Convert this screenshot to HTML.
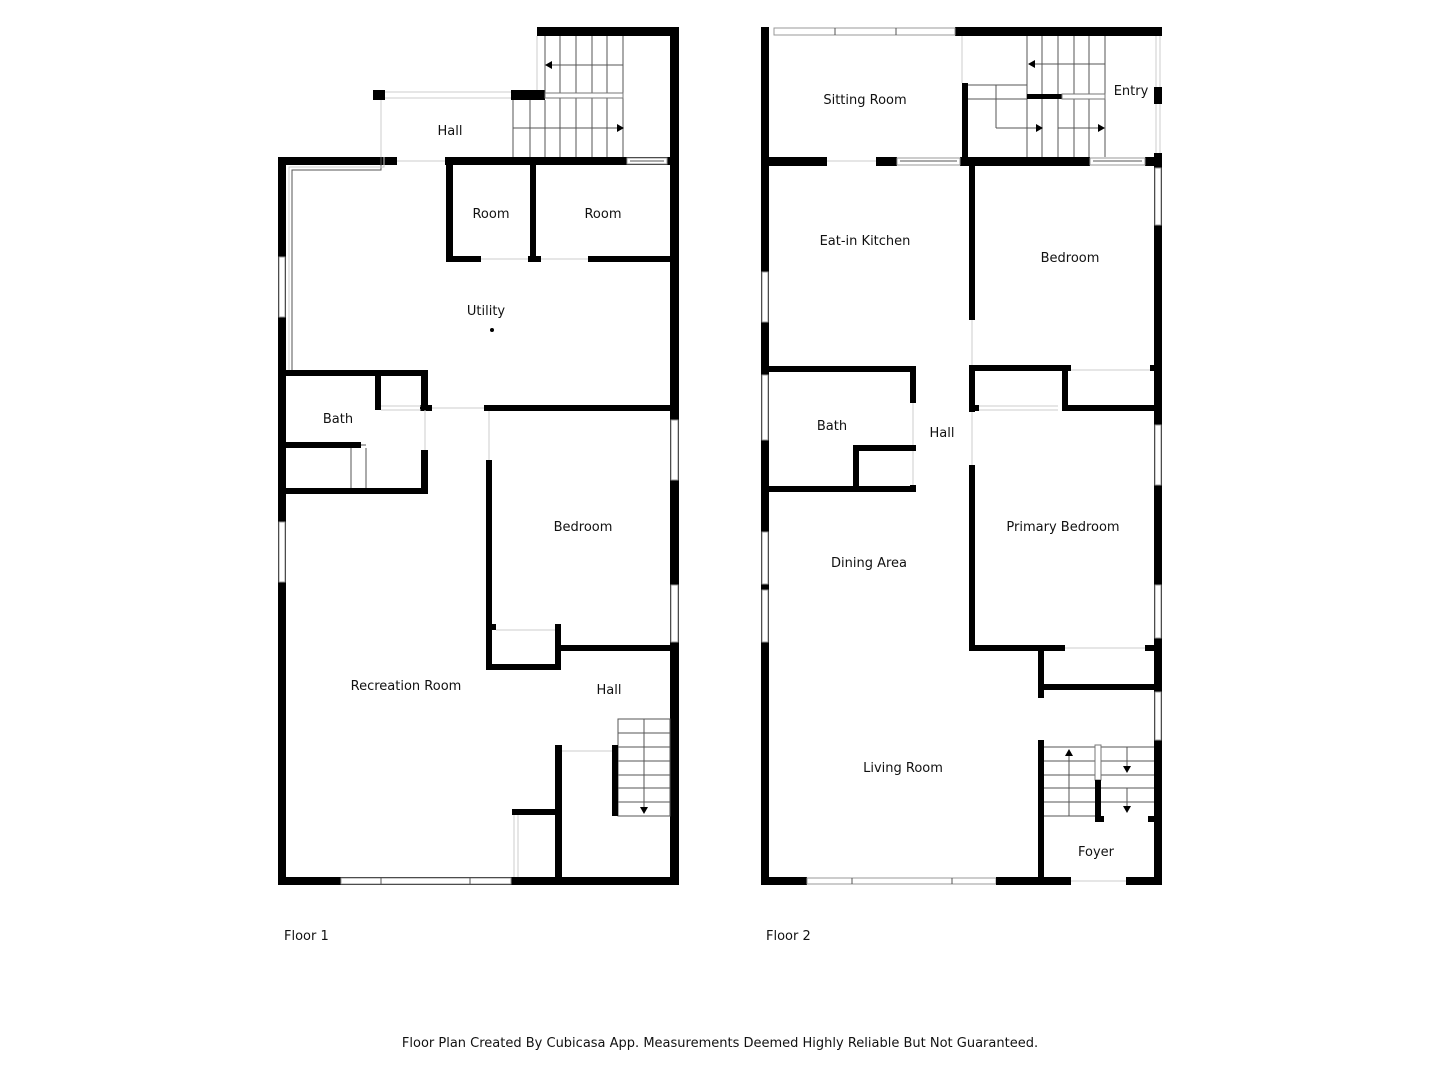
<!DOCTYPE html>
<html><head><meta charset="utf-8"><style>
html,body{margin:0;padding:0;background:#fff;width:1440px;height:1080px;overflow:hidden}
svg text{font-family:"DejaVu Sans","Liberation Sans",sans-serif;font-size:13px;fill:#111}
.w{fill:#000}
.win{fill:#fff;stroke:#999;stroke-width:1}
.t{stroke:#555;stroke-width:1;fill:none}
.d{stroke:#ccc;stroke-width:1;fill:none}
</style></head><body>
<svg width="1440" height="1080" viewBox="0 0 1440 1080" xmlns="http://www.w3.org/2000/svg">
<!-- ===== FLOOR 1 ===== -->
<!-- outer walls -->
<rect class="w" x="278" y="157" width="8" height="728"/>
<rect class="w" x="670" y="27" width="9" height="858"/>
<rect class="w" x="278" y="877" width="401" height="8"/>
<rect class="w" x="278" y="157" width="119" height="8"/>
<rect class="w" x="445" y="157" width="225" height="8"/>
<rect class="win" x="627" y="158" width="40" height="6"/>
<line class="t" x1="630" y1="161" x2="664" y2="161"/>
<rect class="win" x="279" y="257" width="6" height="60"/>
<rect class="win" x="279" y="522" width="6" height="60"/>
<rect class="win" x="671" y="420" width="7" height="60"/>
<rect class="win" x="671" y="585" width="7" height="57"/>
<rect class="win" x="341" y="878" width="170" height="6"/>
<line class="t" x1="381" y1="878" x2="381" y2="884"/><line class="t" x1="470" y1="878" x2="470" y2="884"/>
<line class="d" x1="397" y1="161" x2="445" y2="161"/>
<!-- upper stair enclosure -->
<rect class="w" x="537" y="27" width="142" height="9"/>
<line class="d" x1="537" y1="36" x2="537" y2="90"/>
<rect class="w" x="373" y="90" width="12" height="10"/>
<rect class="w" x="511" y="90" width="34" height="10"/>
<line class="d" x1="385" y1="92" x2="511" y2="92"/><line class="d" x1="385" y1="98" x2="511" y2="98"/>
<line class="d" x1="381" y1="100" x2="381" y2="157"/>
<line class="t" x1="545" y1="36" x2="545" y2="94"/>
<line class="t" x1="560" y1="36" x2="560" y2="157"/><line class="t" x1="576" y1="36" x2="576" y2="157"/>
<line class="t" x1="592" y1="36" x2="592" y2="157"/><line class="t" x1="607" y1="36" x2="607" y2="157"/>
<line class="t" x1="623" y1="36" x2="623" y2="157"/>
<line class="t" x1="530" y1="100" x2="530" y2="157"/><line class="t" x1="545" y1="100" x2="545" y2="157"/>
<line class="t" x1="513" y1="100" x2="513" y2="157"/>
<rect x="545" y="93" width="78" height="5" fill="#fff" stroke="#777" stroke-width="1"/>
<line class="t" x1="547" y1="65" x2="623" y2="65"/><polygon points="545,65 552,61 552,69" fill="#000"/>
<line class="t" x1="513" y1="128" x2="617" y2="128"/><polygon points="624,128 617,124 617,132" fill="#000"/>
<!-- utility thin line -->
<polyline class="t" points="381,157 381,170 292,170 292,370"/>
<polyline class="d" points="384,157 384,167 289,167 289,370"/>
<!-- rooms -->
<rect class="w" x="446" y="165" width="7" height="97"/>
<rect class="w" x="530" y="165" width="6" height="97"/>
<rect class="w" x="446" y="256" width="35" height="6"/>
<rect class="w" x="528" y="256" width="13" height="6"/>
<rect class="w" x="588" y="256" width="82" height="6"/>
<line class="d" x1="481" y1="259" x2="528" y2="259"/><line class="d" x1="541" y1="259" x2="588" y2="259"/>
<!-- bath -->
<rect class="w" x="278" y="370" width="150" height="6"/>
<rect class="w" x="375" y="370" width="6" height="40"/>
<rect class="w" x="421" y="370" width="7" height="40"/>
<rect class="w" x="420" y="405" width="12" height="6"/>
<line class="d" x1="381" y1="406" x2="421" y2="406"/><line class="d" x1="381" y1="410" x2="421" y2="410"/>
<line class="d" x1="432" y1="408" x2="484" y2="408"/>
<rect class="w" x="484" y="405" width="186" height="6"/>
<line class="d" x1="425" y1="410" x2="425" y2="450"/>
<rect class="w" x="421" y="450" width="7" height="44"/>
<rect class="w" x="286" y="442" width="75" height="6"/>
<line class="t" x1="351" y1="448" x2="351" y2="490"/><line class="t" x1="366" y1="448" x2="366" y2="490"/><line class="t" x1="361" y1="445" x2="366" y2="445"/>
<rect class="w" x="278" y="488" width="150" height="6"/>
<!-- bedroom -->
<line class="d" x1="489" y1="411" x2="489" y2="460"/>
<rect class="w" x="486" y="460" width="6" height="209"/>
<rect class="w" x="486" y="664" width="75" height="6"/>
<rect class="w" x="555" y="624" width="6" height="46"/>
<rect class="w" x="492" y="624" width="4" height="6"/>
<line class="d" x1="496" y1="630" x2="555" y2="630"/>
<rect class="w" x="555" y="645" width="115" height="6"/>
<!-- hall stairs -->
<rect x="618" y="719" width="52" height="97" fill="none" stroke="#555" stroke-width="1"/>
<line class="t" x1="618" y1="733" x2="670" y2="733"/><line class="t" x1="618" y1="747" x2="670" y2="747"/>
<line class="t" x1="618" y1="761" x2="670" y2="761"/><line class="t" x1="618" y1="775" x2="670" y2="775"/>
<line class="t" x1="618" y1="788" x2="670" y2="788"/><line class="t" x1="618" y1="802" x2="670" y2="802"/>
<line class="t" x1="644" y1="719" x2="644" y2="807"/><polygon points="644,814 640,807 648,807" fill="#000"/>
<rect class="w" x="612" y="745" width="6" height="71"/>
<rect class="w" x="555" y="745" width="7" height="140"/>
<line class="d" x1="562" y1="751" x2="612" y2="751"/>
<rect class="w" x="512" y="809" width="49" height="6"/>
<line class="d" x1="514" y1="815" x2="514" y2="877"/><line class="d" x1="518" y1="815" x2="518" y2="877"/>
<!-- labels -->
<text x="450" y="135" text-anchor="middle">Hall</text>
<text x="491" y="218" text-anchor="middle">Room</text>
<text x="603" y="218" text-anchor="middle">Room</text>
<text x="486" y="315" text-anchor="middle">Utility</text>
<circle cx="492" cy="330" r="2" fill="#000"/>
<text x="338" y="423" text-anchor="middle">Bath</text>
<text x="583" y="531" text-anchor="middle">Bedroom</text>
<text x="406" y="690" text-anchor="middle">Recreation Room</text>
<text x="609" y="694" text-anchor="middle">Hall</text>
<text x="284" y="940">Floor 1</text>

<!-- ===== FLOOR 2 ===== -->
<rect class="w" x="761" y="27" width="8" height="858"/>
<rect class="w" x="955" y="27" width="207" height="9"/>
<rect class="win" x="774" y="28" width="181" height="7"/>
<line class="t" x1="835" y1="28" x2="835" y2="35"/><line class="t" x1="896" y1="28" x2="896" y2="35"/>
<rect class="w" x="1154" y="87" width="8" height="17"/>
<rect class="w" x="1154" y="153" width="8" height="732"/>
<line class="d" x1="1156" y1="36" x2="1156" y2="87"/><line class="d" x1="1160" y1="36" x2="1160" y2="87"/>
<line class="d" x1="1156" y1="104" x2="1156" y2="153"/><line class="d" x1="1160" y1="104" x2="1160" y2="153"/>
<rect class="win" x="1155" y="168" width="6" height="57"/>
<rect class="win" x="1155" y="425" width="6" height="60"/>
<rect class="win" x="1155" y="585" width="6" height="53"/>
<rect class="win" x="1155" y="692" width="6" height="48"/>
<rect class="win" x="762" y="272" width="6" height="50"/>
<rect class="win" x="762" y="375" width="6" height="65"/>
<rect class="win" x="762" y="532" width="6" height="52"/>
<rect class="win" x="762" y="590" width="6" height="52"/>
<!-- sitting room bottom -->
<rect class="w" x="761" y="157" width="66" height="9"/>
<rect class="w" x="876" y="157" width="21" height="9"/>
<rect class="w" x="960" y="157" width="130" height="9"/>
<rect class="w" x="1145" y="157" width="17" height="9"/>
<line class="d" x1="827" y1="161" x2="876" y2="161"/>
<rect class="win" x="897" y="158" width="63" height="7"/><line class="t" x1="900" y1="161" x2="957" y2="161"/>
<rect class="win" x="1090" y="158" width="55" height="7"/><line class="t" x1="1093" y1="161" x2="1142" y2="161"/>
<rect class="w" x="962" y="83" width="6" height="83"/>
<line class="d" x1="962" y1="36" x2="962" y2="83"/>
<!-- stairs -->
<line class="t" x1="1027" y1="36" x2="1027" y2="157"/>
<line class="t" x1="1042" y1="36" x2="1042" y2="157"/><line class="t" x1="1058" y1="36" x2="1058" y2="157"/>
<line class="t" x1="1074" y1="36" x2="1074" y2="157"/><line class="t" x1="1089" y1="36" x2="1089" y2="157"/>
<line class="t" x1="1105" y1="36" x2="1105" y2="157"/>
<rect class="w" x="1027" y="94" width="35" height="5"/>
<rect x="1062" y="94" width="43" height="5" fill="#fff" stroke="#777" stroke-width="1"/>
<line class="t" x1="968" y1="85" x2="1027" y2="85"/><line class="t" x1="968" y1="99" x2="1027" y2="99"/>
<line class="t" x1="996" y1="85" x2="996" y2="128"/>
<line class="t" x1="996" y1="128" x2="1036" y2="128"/><polygon points="1043,128 1036,124 1036,132" fill="#000"/>
<line class="t" x1="1058" y1="128" x2="1098" y2="128"/><polygon points="1105,128 1098,124 1098,132" fill="#000"/>
<line class="t" x1="1031" y1="64" x2="1105" y2="64"/><polygon points="1028,64 1035,60 1035,68" fill="#000"/>
<!-- central wall -->
<rect class="w" x="969" y="166" width="6" height="154"/>
<line class="d" x1="972" y1="320" x2="972" y2="365"/>
<rect class="w" x="969" y="365" width="6" height="47"/>
<line class="d" x1="972" y1="412" x2="972" y2="465"/>
<rect class="w" x="969" y="465" width="6" height="186"/>
<!-- bath -->
<rect class="w" x="761" y="366" width="155" height="6"/>
<rect class="w" x="910" y="366" width="6" height="37"/>
<line class="d" x1="913" y1="403" x2="913" y2="486"/>
<rect class="w" x="853" y="445" width="63" height="6"/>
<rect class="w" x="853" y="445" width="6" height="47"/>
<rect class="w" x="910" y="485" width="6" height="7"/>
<rect class="w" x="761" y="486" width="155" height="6"/>
<!-- right closets -->
<rect class="w" x="969" y="365" width="102" height="6"/>
<rect class="w" x="1062" y="365" width="6" height="46"/>
<rect class="w" x="1062" y="405" width="98" height="6"/>
<rect class="w" x="1150" y="365" width="10" height="6"/>
<line class="d" x1="1071" y1="370" x2="1150" y2="370"/>
<rect class="w" x="969" y="405" width="10" height="6"/>
<line class="d" x1="979" y1="406" x2="1058" y2="406"/><line class="d" x1="979" y1="410" x2="1058" y2="410"/>
<!-- primary bottom -->
<rect class="w" x="969" y="645" width="96" height="6"/>
<line class="d" x1="1065" y1="648" x2="1145" y2="648"/>
<rect class="w" x="1145" y="645" width="15" height="6"/>
<rect class="w" x="1038" y="651" width="6" height="47"/>
<rect class="w" x="1038" y="684" width="122" height="6"/>
<rect class="w" x="1038" y="740" width="6" height="145"/>
<!-- foyer stairs -->
<line class="t" x1="1044" y1="747" x2="1154" y2="747"/><line class="t" x1="1044" y1="761" x2="1154" y2="761"/>
<line class="t" x1="1044" y1="775" x2="1154" y2="775"/><line class="t" x1="1044" y1="788" x2="1154" y2="788"/>
<line class="t" x1="1044" y1="802" x2="1154" y2="802"/><line class="t" x1="1044" y1="816" x2="1095" y2="816"/>
<line class="t" x1="1069" y1="816" x2="1069" y2="756"/><polygon points="1069,749 1065,756 1073,756" fill="#000"/>
<rect x="1095" y="745" width="6" height="35" fill="#fff" stroke="#777" stroke-width="1"/>
<rect class="w" x="1095" y="780" width="6" height="42"/>
<rect class="w" x="1095" y="816" width="9" height="6"/>
<rect class="w" x="1148" y="816" width="7" height="6"/>
<line class="t" x1="1127" y1="747" x2="1127" y2="767"/><polygon points="1127,773 1123,766 1131,766" fill="#000"/>
<line class="t" x1="1127" y1="788" x2="1127" y2="806"/><polygon points="1127,813 1123,806 1131,806" fill="#000"/>
<!-- bottom -->
<rect class="w" x="761" y="877" width="46" height="8"/>
<rect class="win" x="807" y="878" width="189" height="6"/>
<line class="t" x1="852" y1="878" x2="852" y2="884"/><line class="t" x1="952" y1="878" x2="952" y2="884"/>
<rect class="w" x="996" y="877" width="75" height="8"/>
<line class="d" x1="1071" y1="881" x2="1126" y2="881"/>
<rect class="w" x="1126" y="877" width="36" height="8"/>
<!-- labels -->
<text x="865" y="104" text-anchor="middle">Sitting Room</text>
<text x="1131" y="95" text-anchor="middle">Entry</text>
<text x="865" y="245" text-anchor="middle">Eat-in Kitchen</text>
<text x="1070" y="262" text-anchor="middle">Bedroom</text>
<text x="832" y="430" text-anchor="middle">Bath</text>
<text x="942" y="437" text-anchor="middle">Hall</text>
<text x="1063" y="531" text-anchor="middle">Primary Bedroom</text>
<text x="869" y="567" text-anchor="middle">Dining Area</text>
<text x="903" y="772" text-anchor="middle">Living Room</text>
<text x="1096" y="856" text-anchor="middle">Foyer</text>
<text x="766" y="940">Floor 2</text>
<text x="720" y="1047" text-anchor="middle">Floor Plan Created By Cubicasa App. Measurements Deemed Highly Reliable But Not Guaranteed.</text>
</svg>
</body></html>
